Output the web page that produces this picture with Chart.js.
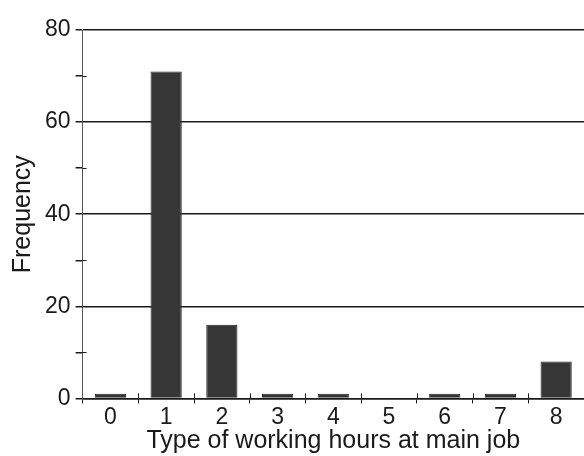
<!DOCTYPE html>
<html>
<head>
<meta charset="utf-8">
<script src="https://cdn.jsdelivr.net/npm/chart.js@4/dist/chart.umd.min.js"></script>
<style>
  html, body { margin: 0; padding: 0; background: #fff; }
  #wrap { width: 584px; height: 456px; }
</style>
</head>
<body>
<div id="wrap"><canvas id="chartHours"></canvas></div>
<script>
const categories = ['0', '1', '2', '3', '4', '5', '6', '7', '8'];
const frequency = [1, 71, 16, 1, 1, 0, 1, 1, 8];
const yTicks = [0, 20, 40, 60, 80];

const ink = '#1a1a1a';
const barFill = '#363636';
const font = 'Liberation Sans, Arial, sans-serif';

// small tick marks that cross the axes (x: between categories, y: minor steps)
const crossTicks = {
  id: 'crossTicks',
  afterDatasetsDraw(chart) {
    const { ctx, chartArea, scales } = chart;
    const x = scales.x, y = scales.y;
    ctx.save();
    ctx.strokeStyle = ink;
    ctx.lineWidth = 1;
    for (let i = 0; i < categories.length - 1; i++) {
      const px = Math.round((x.getPixelForValue(i) + x.getPixelForValue(i + 1)) / 2) + 0.5;
      ctx.beginPath();
      ctx.moveTo(px, chartArea.bottom - 5);
      ctx.lineTo(px, chartArea.bottom);
      ctx.stroke();
    }
    for (let v = 10; v < 80; v += 20) {
      const py = Math.round(y.getPixelForValue(v)) + 0.5;
      ctx.beginPath();
      ctx.moveTo(chartArea.left, py);
      ctx.lineTo(chartArea.left + 4, py);
      ctx.stroke();
    }
    ctx.restore();
  }
};

new Chart(document.getElementById('chartHours'), {
  type: 'bar',
  data: {
    labels: categories,
    datasets: [{
      label: 'Frequency',
      data: frequency,
      backgroundColor: barFill,
      borderColor: '#222',
      borderWidth: 1,
      categoryPercentage: 1,
      barPercentage: 0.56
    }]
  },
  options: {
    responsive: true,
    maintainAspectRatio: false,
    animation: false,
    layout: { padding: { top: 30, right: 0, left: 8, bottom: 0 } },
    plugins: { legend: { display: false }, tooltip: { enabled: false } },
    scales: {
      x: {
        offset: true,
        grid: { display: true, drawOnChartArea: false, offset: true, tickLength: 5, color: ink },
        border: { display: true, color: ink, width: 1.5 },
        ticks: { color: ink, font: { family: font, size: 23 }, padding: 0 },
        title: { display: true, text: 'Type of working hours at main job', color: ink, font: { family: font, size: 25 }, padding: { top: -5, bottom: 0 } }
      },
      y: {
        min: 0,
        max: 80,
        afterBuildTicks: (axis) => {
          const minor = [10, 30, 50, 70];
          axis.ticks = yTicks.concat(minor).sort((a, b) => a - b).map(v => ({ value: v }));
        },
        grid: {
          color: (c) => (c.tick && c.tick.value % 20 === 0) ? ink : 'rgba(0,0,0,0)',
          tickColor: ink,
          lineWidth: 1.5,
          tickLength: 7
        },
        border: { display: true, color: '#555', width: 1 },
        ticks: {
          color: ink,
          font: { family: font, size: 23 },
          padding: 5,
          callback: (v) => (v % 20 === 0 ? v : '')
        },
        title: { display: true, text: 'Frequency', color: ink, font: { family: font, size: 25 }, padding: { top: 0, bottom: 2 } }
      }
    }
  },
  plugins: [crossTicks]
});
</script>
</body>
</html>
